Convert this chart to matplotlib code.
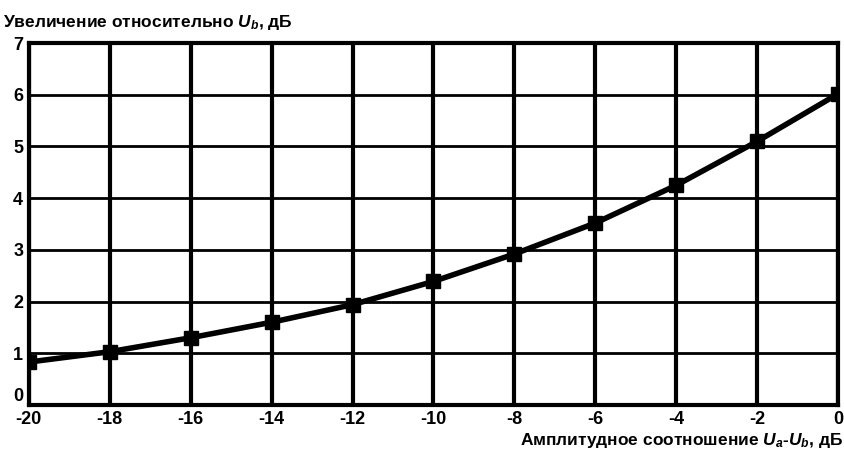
import matplotlib
matplotlib.use("Agg")
import matplotlib.pyplot as plt

# amplitude ratio Ua-Ub, dB
ratio_db = [-20, -18, -16, -14, -12, -10, -8, -6, -4, -2, 0]
# increase relative to Ub, dB
increase_db = [0.83, 1.03, 1.3, 1.6, 1.94, 2.39, 2.92, 3.52, 4.25, 5.1, 6.02]

x_ticks = [-20, -18, -16, -14, -12, -10, -8, -6, -4, -2, 0]
y_ticks = [0, 1, 2, 3, 4, 5, 6, 7]

plt.rcParams['font.family'] = ['Liberation Sans', 'DejaVu Sans']
plt.rcParams['font.weight'] = 'bold'
plt.rcParams['axes.unicode_minus'] = False
plt.rcParams['mathtext.fontset'] = 'custom'
plt.rcParams['mathtext.it'] = 'Liberation Sans:italic:bold'
plt.rcParams['mathtext.rm'] = 'Liberation Sans:bold'

fig = plt.figure(figsize=(8.45, 4.53), dpi=100)
ax = fig.add_axes([0.034, 0.106, 0.958, 0.799])

ax.plot(ratio_db, increase_db, color='black', linewidth=4,
        marker='s', markersize=10, zorder=3)

ax.set_xlim(-20, 0)
ax.set_ylim(0, 7)
ax.set_xticks(x_ticks)
ax.set_yticks(y_ticks)
ax.tick_params(length=0, labelsize=13)
ax.tick_params(axis='x', pad=4)
ax.tick_params(axis='y', pad=4)
# lift the bottom "0" a little so it doesn't sit on "-20"
ax.get_yticklabels()[0].set_va('bottom')
ax.xaxis.grid(True, color='black', linewidth=3)
ax.yaxis.grid(True, color='black', linewidth=2)
for s in ax.spines.values():
    s.set_linewidth(3)

fig.text(0.004, 0.93, r'Увеличение относительно $U_b$, дБ', fontsize=12.5,
         ha='left', va='bottom')
fig.text(0.998, 0.006, r'Амплитудное соотношение $U_a$-$U_b$, дБ', fontsize=12.5,
         ha='right', va='bottom')

fig.savefig('out.png', dpi=100)
